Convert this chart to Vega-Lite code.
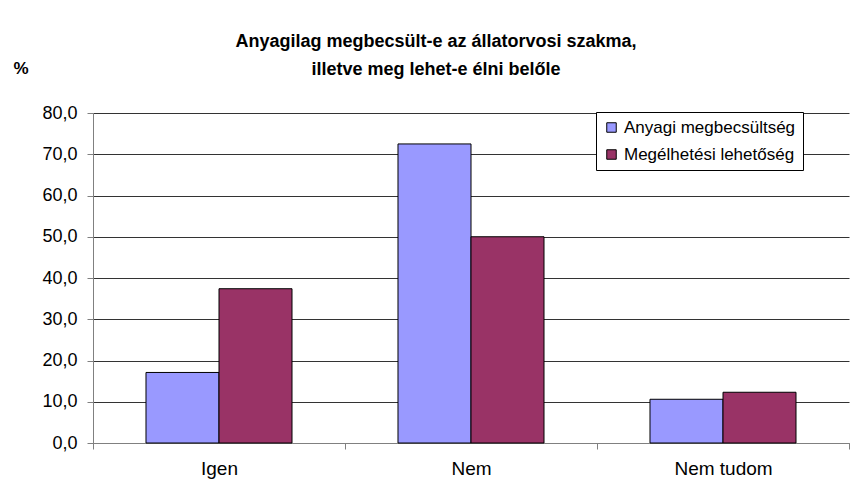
{
  "$schema": "https://vega.github.io/schema/vega-lite/v6.json",
  "autosize": "none",
  "width": 756,
  "height": 330,
  "padding": {"left": 93, "top": 113, "right": 1, "bottom": 57},
  "background": "white",
  "title": {
    "text": ["Anyagilag megbecsült-e az állatorvosi szakma,", "illetve meg lehet-e élni belőle"],
    "anchor": "middle",
    "dx": -35,
    "offset": -20,
    "font": "Liberation Sans",
    "fontSize": 18,
    "fontWeight": "bold",
    "lineHeight": 28,
    "color": "black"
  },
  "data": {
    "values": [
      {"valasz": "Igen", "sorozat": "Anyagi megbecsültség", "ertek": 17.1},
      {"valasz": "Igen", "sorozat": "Megélhetési lehetőség", "ertek": 37.4},
      {"valasz": "Nem", "sorozat": "Anyagi megbecsültség", "ertek": 72.5},
      {"valasz": "Nem", "sorozat": "Megélhetési lehetőség", "ertek": 50.0},
      {"valasz": "Nem tudom", "sorozat": "Anyagi megbecsültség", "ertek": 10.6},
      {"valasz": "Nem tudom", "sorozat": "Megélhetési lehetőség", "ertek": 12.3}
    ]
  },
  "mark": {"type": "bar", "stroke": "black", "strokeWidth": 1},
  "encoding": {
    "x": {
      "field": "valasz",
      "type": "nominal",
      "sort": ["Igen", "Nem", "Nem tudom"],
      "scale": {"paddingInner": 0, "paddingOuter": 0},
      "axis": {
        "title": null,
        "labelAngle": 0,
        "labelFont": "Liberation Sans",
        "labelFontSize": 19,
        "labelColor": "black",
        "labelPadding": 10,
        "tickBand": "extent",
        "tickSize": 6,
        "tickColor": "#808080",
        "domainColor": "#808080",
        "grid": false
      }
    },
    "xOffset": {
      "field": "sorozat",
      "type": "nominal",
      "sort": ["Anyagi megbecsültség", "Megélhetési lehetőség"],
      "scale": {"paddingInner": 0, "paddingOuter": 0.726}
    },
    "y": {
      "field": "ertek",
      "type": "quantitative",
      "scale": {"domain": [0, 80], "nice": false},
      "axis": {
        "values": [0, 10, 20, 30, 40, 50, 60, 70, 80],
        "labelExpr": "replace(format(datum.value, '.1f'), '.', ',')",
        "labelFont": "Liberation Sans",
        "labelFontSize": 18,
        "labelColor": "black",
        "labelPadding": 10,
        "tickSize": 6,
        "tickColor": "#808080",
        "domainColor": "#808080",
        "gridColor": "#333333",
        "gridOpacity": 1,
        "title": "%",
        "titleAngle": 0,
        "titleX": -80,
        "titleY": -40,
        "titleAlign": "left",
        "titleBaseline": "alphabetic",
        "titleFont": "Liberation Sans",
        "titleFontSize": 17,
        "titleFontWeight": "bold",
        "titleColor": "black"
      }
    },
    "color": {
      "field": "sorozat",
      "type": "nominal",
      "sort": ["Anyagi megbecsültség", "Megélhetési lehetőség"],
      "scale": {"range": ["#9999FF", "#993366"]},
      "legend": {
        "title": null,
        "orient": "none",
        "legendX": 503,
        "legendY": -1,
        "strokeColor": "black",
        "fillColor": "white",
        "padding": 7,
        "symbolType": "square",
        "symbolSize": 90,
        "symbolStrokeColor": "black",
        "symbolStrokeWidth": 1,
        "symbolOpacity": 1,
        "labelFont": "Liberation Sans",
        "labelFontSize": 17,
        "labelColor": "black",
        "rowPadding": 9,
        "labelLimit": 300
      }
    }
  },
  "config": {"view": {"stroke": null}}
}
